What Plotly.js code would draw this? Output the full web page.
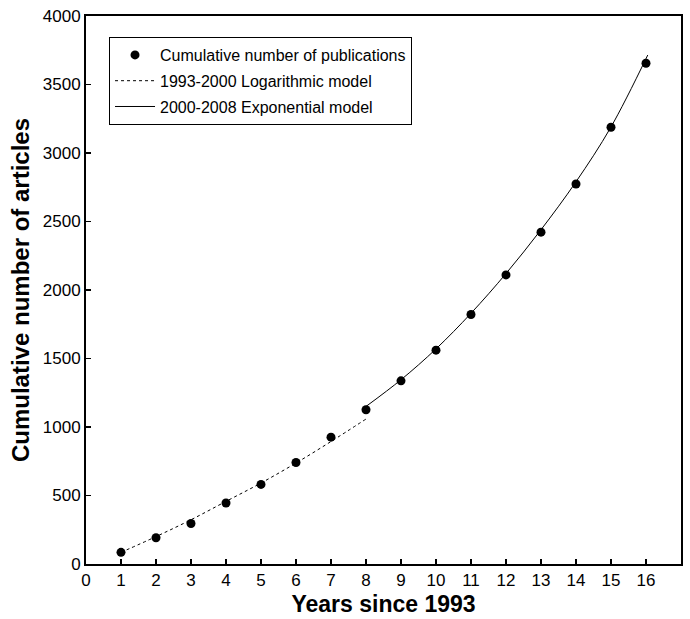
<!DOCTYPE html>
<html>
<head>
<meta charset="utf-8">
<script src="https://cdn.plot.ly/plotly-3.0.1.min.js"></script>
<style>html,body{margin:0;padding:0;background:#fff;}#chart{width:690px;height:619px;}</style>
</head>
<body>
<div id="chart"></div>
<script>
// Observed cumulative publications
var years = [1, 2, 3, 4, 5, 6, 7, 8, 9, 10, 11, 12, 13, 14, 15, 16];
var cumulative = [85, 192, 296, 445, 581, 741, 926, 1126, 1337, 1561, 1821, 2110, 2422, 2774, 3188, 3655];

// 1993-2000 logarithmic model curve
var logX = [1, 2, 3, 4, 5, 6, 7, 8];
var logY = [85, 200, 323, 457, 591, 737, 894, 1058];

// 2000-2008 exponential model curve
var expX = [8, 9, 10, 11, 12, 13, 14, 15, 16.05];
var expY = [1150, 1345, 1570, 1830, 2120, 2440, 2790, 3190, 3715];

var xTicks = [0,1,2,3,4,5,6,7,8,9,10,11,12,13,14,15,16,17];
var yTicks = [0, 500, 1000, 1500, 2000, 2500, 3000, 3500, 4000];

var FONT = 'Arial, "Liberation Sans", sans-serif';

var traces = [
  {
    x: years, y: cumulative, type: 'scatter', mode: 'markers',
    name: 'Cumulative number of publications', legendgroup: 'a',
    marker: {color: '#000', size: 9, symbol: 'circle'}
  },
  {
    x: logX, y: logY, type: 'scatter', mode: 'lines',
    name: '1993-2000 Logarithmic model', legendgroup: 'b',
    line: {color: '#000', width: 1, dash: 'dot', shape: 'spline'}
  },
  {
    x: expX, y: expY, type: 'scatter', mode: 'lines',
    name: '2000-2008 Exponential model', legendgroup: 'c',
    line: {color: '#000', width: 1, shape: 'spline'}
  }
];

var layout = {
  width: 690, height: 619,
  margin: {l: 86, r: 9, t: 16, b: 55},
  paper_bgcolor: '#fff', plot_bgcolor: '#fff',
  font: {family: FONT, color: '#000', size: 17},
  showlegend: true,
  legend: {
    x: 0.0387, y: 0.9617, xanchor: 'left', yanchor: 'top',
    bgcolor: '#fff', bordercolor: '#000', borderwidth: 1,
    font: {family: FONT, size: 16, color: '#000'},
    itemwidth: 40, tracegroupgap: 2
  },
  xaxis: {
    range: [0, 17], tickvals: xTicks, ticktext: xTicks.map(String),
    showgrid: false, zeroline: false,
    showline: true, linecolor: '#000', linewidth: 2, mirror: true,
    ticks: 'inside', ticklen: 5, tickwidth: 1.5, tickcolor: '#000',
    tickfont: {family: FONT, size: 17, color: '#000'},
    title: {text: 'Years since 1993', font: {family: FONT, size: 23, color: '#000', weight: 'bold'}, standoff: 6}
  },
  yaxis: {
    range: [0, 4000], tickvals: yTicks, ticktext: yTicks.map(String),
    showgrid: false, zeroline: false,
    showline: true, linecolor: '#000', linewidth: 2, mirror: true,
    ticks: 'inside', ticklen: 5, tickwidth: 1.5, tickcolor: '#000',
    tickfont: {family: FONT, size: 17, color: '#000'},
    title: {text: 'Cumulative number of articles', font: {family: FONT, size: 24, color: '#000', weight: 'bold'}, standoff: 6}
  }
};

Plotly.newPlot('chart', traces, layout, {displayModeBar: false, staticPlot: true});
</script>
</body>
</html>
